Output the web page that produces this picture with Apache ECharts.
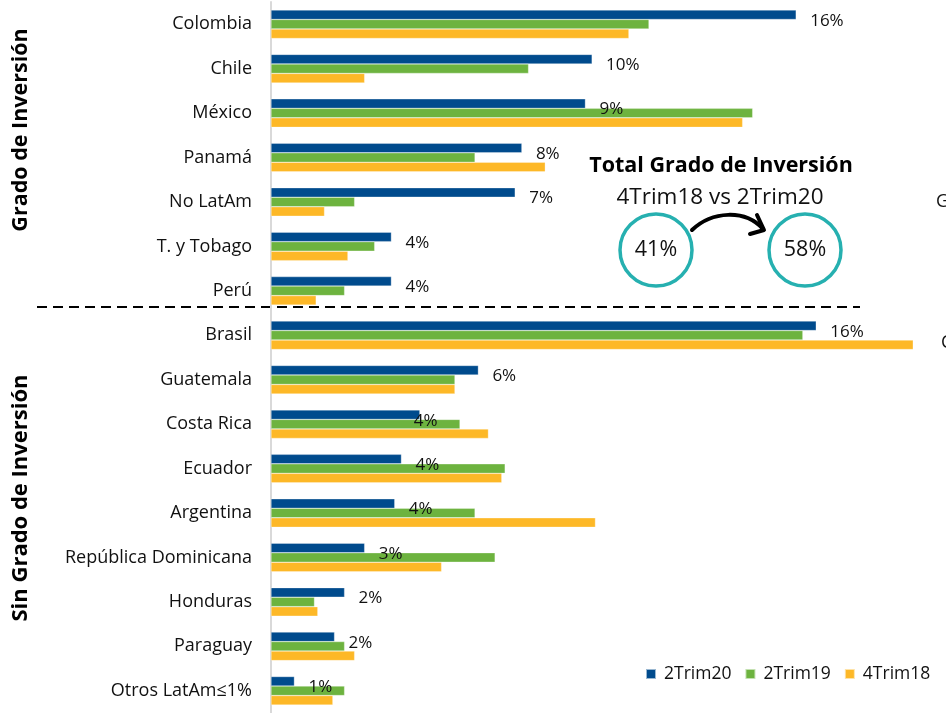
<!DOCTYPE html>
<html lang="es">
<head>
<meta charset="UTF-8">
<title>Grado de Inversión</title>
<script src="https://cdn.jsdelivr.net/npm/echarts@6/dist/echarts.min.js"></script>
<style>
  html, body { margin: 0; padding: 0; background: #fff; }
  #chart { width: 946px; height: 713px; }
</style>
</head>
<body>
<div id="chart"></div>
<script>
// categorias, de arriba abajo
var paises = ['Colombia', 'Chile', 'México', 'Panamá', 'No LatAm', 'T. y Tobago', 'Perú',
  'Brasil', 'Guatemala', 'Costa Rica', 'Ecuador', 'Argentina', 'República Dominicana',
  'Honduras', 'Paraguay', 'Otros LatAm≤1%'];

// participacion (%) por trimestre
var trim20 = [15.7, 9.6, 9.4, 7.5, 7.3, 3.6, 3.6, 16.3, 6.2, 4.45, 3.9, 3.7, 2.8, 2.2, 1.9, 0.7];
var trim19 = [11.3, 7.7, 14.4, 6.1, 2.5, 3.1, 2.2, 15.9, 5.5, 5.65, 7.0, 6.1, 6.7, 1.3, 2.2, 2.2];
var trim18 = [10.7, 2.8, 14.1, 8.2, 1.6, 2.3, 1.35, 19.2, 5.5, 6.5, 6.9, 9.7, 5.1, 1.4, 2.5, 1.85];

var totalAntes = '41%';
var totalAhora = '58%';

var fuente = 'Open Sans';
var chart = echarts.init(document.getElementById('chart'));

// etiqueta de Costa Rica quedo corrida sobre la barra
var etiquetas = trim20.map(function (v, i) {
  var item = { value: v };
  if (paises[i] === 'Costa Rica') item.label = { offset: [-20, 6] };
  return item;
});

function serie(nombre, datos, color, conEtiqueta) {
  return {
    name: nombre,
    type: 'bar',
    data: datos,
    barWidth: 9.5,
    barGap: '0%',
    itemStyle: { color: color, borderColor: 'rgba(255,255,255,0.6)', borderWidth: 0.5 },
    label: {
      show: conEtiqueta,
      position: 'right',
      distance: 14,
      offset: [0, 6],
      color: '#111',
      fontFamily: fuente,
      fontSize: 17,
      formatter: function (p) { return Math.round(p.value) + '%'; }
    },
    emphasis: { disabled: true }
  };
}

var option = {
  animation: false,
  grid: { left: 271, right: 6, top: 2, height: 714 },
  legend: {
    left: 645, top: 665, padding: 0,
    itemWidth: 10, itemHeight: 10, itemGap: 13,
    icon: 'rect',
    textStyle: { fontFamily: fuente, fontSize: 17.5, color: '#111', padding: [0, 0, 0, 3] },
    data: ['2Trim20', '2Trim19', '4Trim18']
  },
  xAxis: { type: 'value', min: 0, max: 20, show: false },
  yAxis: {
    type: 'category',
    data: paises,
    inverse: true,
    axisLine: { show: true, lineStyle: { color: '#d9d9d9', width: 2 } },
    axisTick: { show: false },
    axisLabel: { margin: 19, color: '#111', fontFamily: fuente, fontSize: 18, padding: [3, 0, 0, 0] }
  },
  series: [
    serie('2Trim20', etiquetas, '#004b8d', true),
    serie('2Trim19', trim19, '#6db33f', false),
    serie('4Trim18', trim18, '#fdb827', false)
  ],
  graphic: [
    { type: 'line', shape: { x1: 37, y1: 307, x2: 860, y2: 307 },
      style: { stroke: '#000', lineWidth: 2, lineDash: [10, 6] } },
    { type: 'text', x: 21, y: 130, rotation: Math.PI / 2,
      style: { text: 'Grado de Inversión', fontFamily: fuente, fontWeight: 'bold', fontSize: 21.5,
        fill: '#000', align: 'center', verticalAlign: 'middle' } },
    { type: 'text', x: 21, y: 498, rotation: Math.PI / 2,
      style: { text: 'Sin Grado de Inversión', fontFamily: fuente, fontWeight: 'bold', fontSize: 22,
        fill: '#000', align: 'center', verticalAlign: 'middle' } },
    { type: 'text', x: 721, y: 166,
      style: { text: 'Total Grado de Inversión', fontFamily: fuente, fontWeight: 'bold', fontSize: 21.5,
        fill: '#000', align: 'center', verticalAlign: 'middle' } },
    { type: 'text', x: 720, y: 198,
      style: { text: '4Trim18 vs 2Trim20', fontFamily: fuente, fontSize: 22.5,
        fill: '#111', align: 'center', verticalAlign: 'middle' } },
    { type: 'circle', shape: { cx: 656, cy: 250, r: 36 },
      style: { fill: 'none', stroke: '#26b0b0', lineWidth: 3.5 } },
    { type: 'circle', shape: { cx: 805, cy: 250, r: 36 },
      style: { fill: 'none', stroke: '#26b0b0', lineWidth: 3.5 } },
    { type: 'text', x: 656, y: 250,
      style: { text: totalAntes, fontFamily: fuente, fontSize: 21.5, fill: '#111',
        align: 'center', verticalAlign: 'middle' } },
    { type: 'text', x: 805, y: 250,
      style: { text: totalAhora, fontFamily: fuente, fontSize: 21.5, fill: '#111',
        align: 'center', verticalAlign: 'middle' } },
    { type: 'bezierCurve',
      shape: { x1: 692, y1: 230, cpx1: 712, cpy1: 211, cpx2: 745, cpy2: 209, x2: 763, y2: 229 },
      style: { stroke: '#000', lineWidth: 4, fill: 'none', lineCap: 'round' } },
    { type: 'polyline', shape: { points: [[757, 215], [764, 230], [750, 234]] },
      style: { stroke: '#000', lineWidth: 4, fill: 'none', lineCap: 'round', lineJoin: 'round' } },
    // textos recortados en el borde derecho
    { type: 'text', x: 936, y: 202,
      style: { text: 'G', fontFamily: fuente, fontSize: 18, fill: '#111', verticalAlign: 'middle' } },
    { type: 'text', x: 941, y: 343,
      style: { text: 'C', fontFamily: fuente, fontSize: 18, fill: '#111', verticalAlign: 'middle' } }
  ]
};

chart.setOption(option);
</script>
</body>
</html>
